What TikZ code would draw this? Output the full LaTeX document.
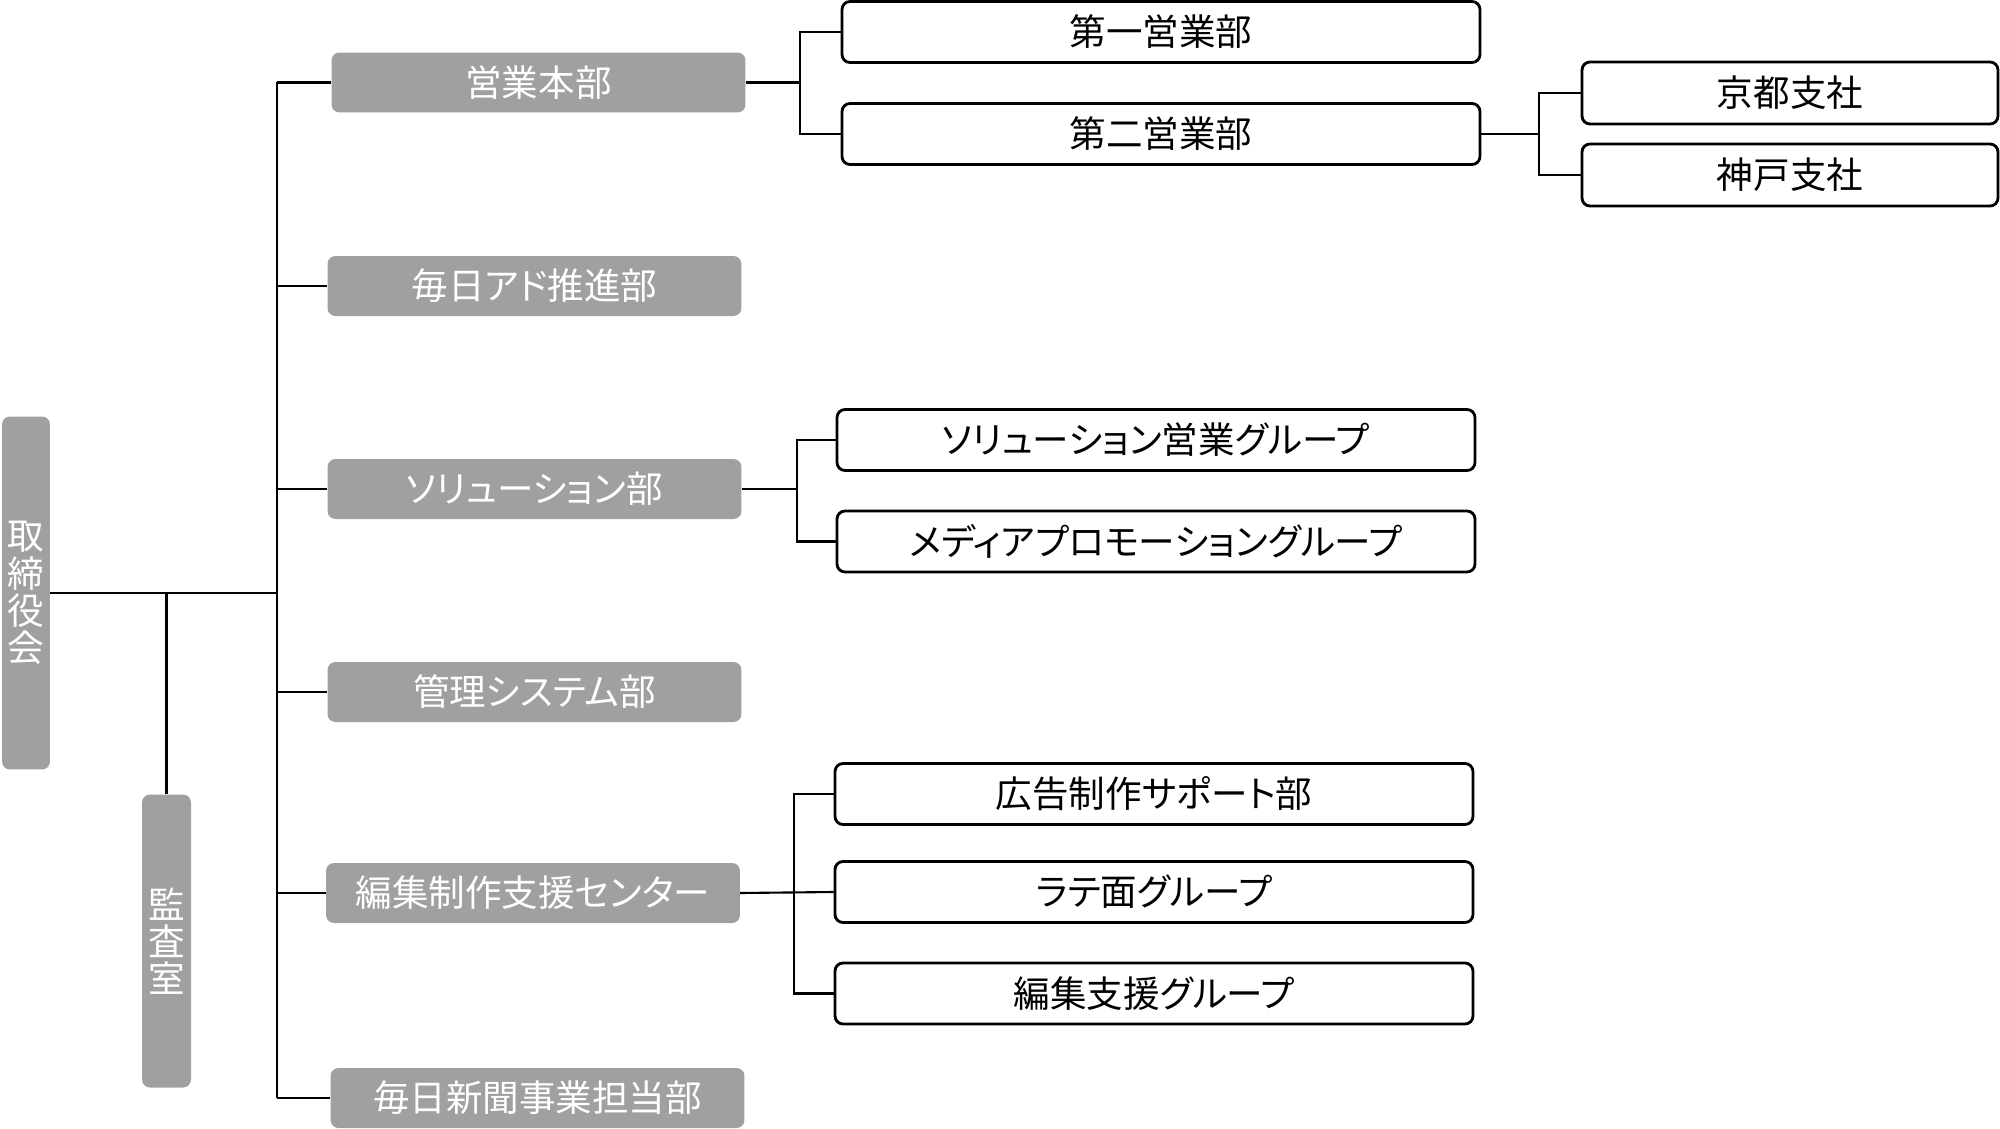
\documentclass[tikz,border=0pt]{standalone}
\usepackage{fontspec}
\newfontfamily\jp[RawFeature=+palt]{Noto Sans CJK JP}
\definecolor{boxgray}{HTML}{A0A0A0}
\begin{document}
\begin{tikzpicture}[x=0.05cm,y=-0.05cm,
  every node/.style={font=\jp\fontsize{52}{53}\selectfont, inner sep=0pt},
  graybox/.style={fill=boxgray, draw=none, rounded corners=0.4cm, text=white,
     minimum width=20.7cm, minimum height=3cm},
  whitebox/.style={draw=black, line width=4pt, fill=white, rounded corners=0.4cm,
     minimum width=31.9cm, minimum height=3.05cm},
  smallbox/.style={whitebox, minimum width=20.8cm, minimum height=3.1cm},
  vbox/.style={fill=boxgray, draw=none, rounded corners=0.4cm, text=white, align=center},
  conn/.style={draw=black, line width=3pt}]
\useasboundingbox (0,0) rectangle (2000,1129);

% top level
\node[vbox, minimum width=2.4cm, minimum height=17.65cm] (tori) at (26,593) {取\\締\\役\\会};
\node[vbox, minimum width=2.45cm, minimum height=14.65cm] (kansa) at (166.5,941) {監\\査\\室};

% second level
\node[graybox] (eigyo) at (538.5,82.5) {営業本部};
\node[graybox] (ad) at (534.5,286) {毎日アド推進部};
\node[graybox] (sol) at (534.5,489) {ソリューション部};
\node[graybox] (kanri) at (534.5,692) {管理システム部};
\node[graybox] (hen) at (533,893) {編集制作支援センター};
\node[graybox] (shin) at (537.5,1098) {毎日新聞事業担当部};

% third level
\node[whitebox] (dai1) at (1161,32) {第一営業部};
\node[whitebox] (dai2) at (1161,134) {第二営業部};
\node[smallbox] (kyoto) at (1790,93) {京都支社};
\node[smallbox] (kobe) at (1790,175) {神戸支社};
\node[whitebox] (solg) at (1156,440) {ソリューション営業グループ};
\node[whitebox] (media) at (1156,541.5) {メディアプロモーショングループ};
\node[whitebox] (kokoku) at (1154,794) {広告制作サポート部};
\node[whitebox] (rate) at (1154,892) {ラテ面グループ};
\node[whitebox] (henshu) at (1154,993.5) {編集支援グループ};

% bus coordinates
\coordinate (busx) at (277,0);
\coordinate (b1) at (800,0);
\coordinate (b2) at (1539,0);
\coordinate (b3) at (797,0);
\coordinate (b4) at (794,0);

% connectors
\draw[conn] (tori.east) -- (tori.east -| busx);
\draw[conn] (kansa.north) -- (kansa.north |- tori.east);
\draw[conn] (busx |- eigyo.west) -- (busx |- shin.west);
\foreach \n in {eigyo,ad,sol,kanri,hen,shin}
  \draw[conn] (busx |- \n.west) -- (\n.west);

\draw[conn] (eigyo.east) -- (eigyo.east -| b1);
\draw[conn] (dai1.west) -| (b1 |- eigyo.east) |- (dai2.west);

\draw[conn] (dai2.east) -- (dai2.east -| b2);
\draw[conn] (kyoto.west) -| (b2 |- dai2.east) |- (kobe.west);

\draw[conn] (sol.east) -- (sol.east -| b3);
\draw[conn] (solg.west) -| (b3 |- sol.east) |- (media.west);

\draw[conn] (hen.east) -- (rate.west);
\draw[conn] (kokoku.west) -| (b4 |- rate.west) |- (henshu.west);
\end{tikzpicture}
\end{document}
